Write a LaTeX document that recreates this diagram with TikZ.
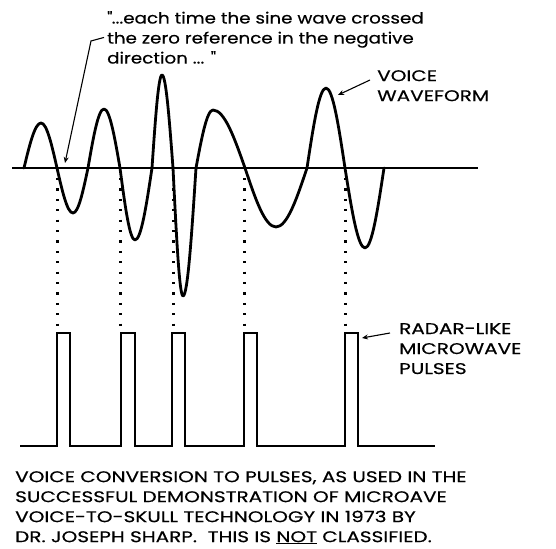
\documentclass[tikz,border=0pt]{standalone}
\usepackage{fontspec}
\setmainfont{Poppins}[FakeStretch=1.18, FakeBold=0.4]
\newfontfamily\capsfont{Poppins}[FakeStretch=1.29, FakeBold=0.4]
\usetikzlibrary{arrows.meta, positioning}

\begin{document}
\begin{tikzpicture}[x=1pt, y=-1pt,
  every node/.style={font=\fontsize{15.5}{20}\selectfont, inner sep=0pt,
                     align=left, anchor=north west},
  caps/.style={font=\fontsize{15.5}{20}\capsfont},
  wave/.style={line width=2.8pt, line join=round, line cap=round},
  zeroline/.style={line width=2.5pt},
  pulse/.style={line width=2.5pt, line join=miter},
  guide/.style={line width=3pt, dash pattern=on 2.2pt off 8.2pt},
  leader/.style={-{Stealth[length=6pt, width=5pt]}, line width=1.1pt},
]
  \useasboundingbox[fill=white] (0,0) rectangle (556,548);

  % Labels
  \node (quote) at (107,11)
        {\textquotedbl...each time the sine wave crossed\\the zero reference in the negative\\direction ... \textquotedbl};
  \node[caps] (voice) at (377,70) {VOICE\\WAVEFORM};
  \node[caps] (radar) at (399,323) {RADAR-LIKE\\MICROWAVE\\PULSES};
  \node[caps] (caption) at (15,471)
        {VOICE CONVERSION TO PULSES, AS USED IN THE\\
         SUCCESSFUL DEMONSTRATION OF MICROAVE\\
         VOICE-TO-SKULL TECHNOLOGY IN 1973 BY\\
         DR. JOSEPH SHARP.\ \ THIS IS \underline{NOT} CLASSIFIED.};

  % Zero reference and voice waveform
  \draw[zeroline] (12,168) -- (478,168);
  \draw[wave] (24,168)
    foreach \px/\py/\zx in {41/123/57, 73/213/88, 104/109/120, 135/240/152,
                            162/75/173, 183/296/196, 213/110/245, 276/227/307,
                            326/88/345, 365/248/384}
    { sin (\px,\py) cos (\zx,168) };

  % Crossings and pulse tops
  \foreach \i/\x in {1/57, 2/120, 3/173, 4/244, 5/345} {
    \coordinate (cross\i) at (\x,178);
    \coordinate (top\i) at (\x,327);
    \draw[guide] (cross\i) -- (top\i);
  }

  % Pulse train
  \draw[pulse] (20,446)
    foreach \a/\b in {57/70, 121/135, 172/185, 244/257, 345/358}
    { -- (\a,446) -- (\a,333) -- (\b,333) -- (\b,446) } -- (435,446);

  % Leaders
  \coordinate (qbend) at (91,41);
  \coordinate (qtip) at (65,163);
  \draw[leader] ([xshift=-3pt]quote.west) -- (qbend) -- (qtip);
  \coordinate (vtail) at (370,80);
  \coordinate (vtip) at (338,95);
  \draw[leader] (vtail) -- (vtip);
  \coordinate (rtail) at (390,333);
  \coordinate (rtip) at (362,338);
  \draw[leader] (rtail) -- (rtip);
\end{tikzpicture}
\end{document}
